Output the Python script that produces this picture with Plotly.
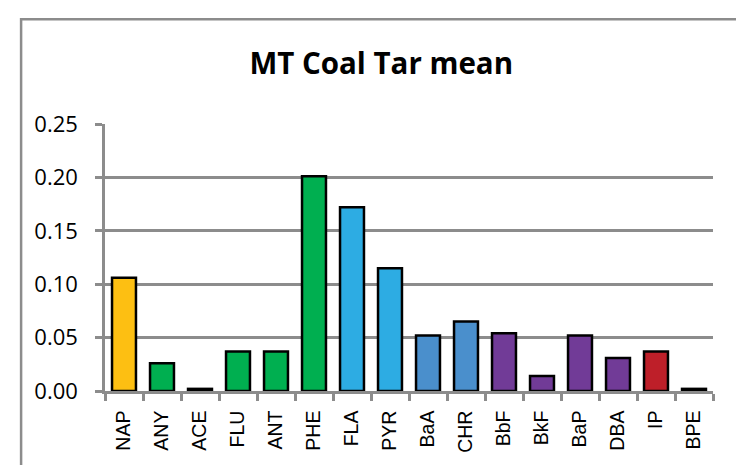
import plotly.graph_objects as go

# PAH compounds and their mean values
compounds = ["NAP", "ANY", "ACE", "FLU", "ANT", "PHE", "FLA", "PYR",
             "BaA", "CHR", "BbF", "BkF", "BaP", "DBA", "IP", "BPE"]
means = [0.106, 0.026, 0.002, 0.037, 0.037, 0.201, 0.172, 0.115,
         0.052, 0.065, 0.054, 0.014, 0.052, 0.031, 0.037, 0.002]
bar_colors = ["#FDBF12", "#00AF50", "#00AF50", "#00AF50", "#00AF50", "#00AF50",
              "#2DACE3", "#2DACE3", "#4A8FCC", "#4A8FCC",
              "#713B97", "#713B97", "#713B97", "#713B97", "#BE1F29", "#BE1F29"]
y_ticks = [0.00, 0.05, 0.10, 0.15, 0.20, 0.25]

GRAY = "#8C8C8C"

fig = go.Figure(
    go.Bar(
        x=compounds,
        y=means,
        marker=dict(color=bar_colors, line=dict(color="black", width=2.5)),
    )
)

fig.update_layout(
    template="none",
    width=736,
    height=465,
    margin=dict(l=105, r=23, t=124, b=74, pad=0),
    paper_bgcolor="white",
    plot_bgcolor="white",
    bargap=0.37,
    showlegend=False,
    title=dict(
        text="<b>MT Coal Tar mean</b>",
        x=0.518, xanchor="center",
        y=0.863, yanchor="middle",
        font=dict(family="Open Sans", size=29.5, color="black"),
    ),
    shapes=[
        # chart-area frame
        dict(type="rect", xref="paper", yref="paper",
             x0=-0.138, x1=2.0, y0=-2.0, y1=1.392,
             line=dict(color=GRAY, width=2.5), fillcolor="rgba(0,0,0,0)",
             layer="below"),
    ],
)

fig.update_xaxes(
    automargin=False,
    showline=True, linecolor=GRAY, linewidth=2.5,
    ticks="outside", tickson="boundaries", ticklen=7, tickwidth=2.5, tickcolor=GRAY,
    tickangle=-90,
    tickfont=dict(family="Liberation Sans", size=19.5, color="black"),
    ticklabelstandoff=9,
    showgrid=False,
)

fig.update_yaxes(
    automargin=False,
    range=[0, 0.25],
    tickvals=y_ticks,
    tickformat=".2f",
    showline=True, linecolor=GRAY, linewidth=2.5,
    ticks="outside", ticklen=7, tickwidth=2.5, tickcolor=GRAY,
    tickfont=dict(family="Open Sans", size=22, color="black"),
    ticklabelstandoff=13,
    showgrid=True, gridcolor=GRAY, gridwidth=2.5,
    zeroline=False,
)

fig.write_html("out.html")
